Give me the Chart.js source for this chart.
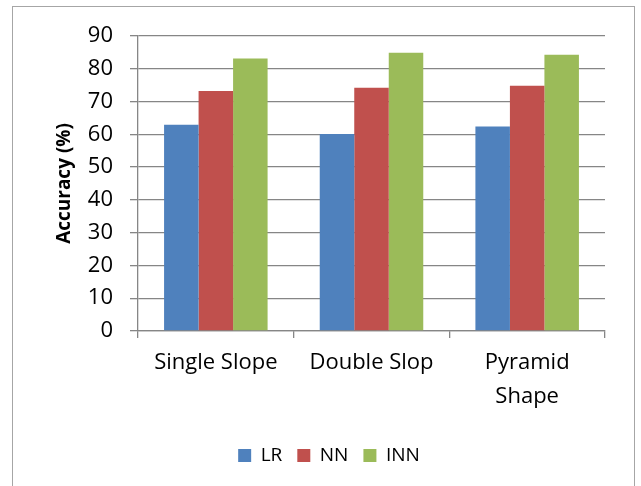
<!DOCTYPE html>
<html>
<head>
<meta charset="utf-8">
<script src="https://cdn.jsdelivr.net/npm/chart.js@4/dist/chart.umd.min.js"></script>
<style>
  html, body { margin: 0; padding: 0; background: #fff; overflow: hidden; }
  #frame { position: absolute; left: 12px; top: 6px; width: 621px; height: 500px; border: 1px solid #a6a6a6; }
  #wrap { position: absolute; left: 0; top: 0; width: 641px; height: 486px; }
</style>
</head>
<body>
<div id="frame"></div>
<div id="wrap"><canvas id="c" width="641" height="486"></canvas></div>
<script>
const categories = [["Single Slope"], ["Double Slop"], ["Pyramid", "Shape"]];
const seriesNames = ["LR", "NN", "INN"];
const lrValues = [62.9, 60.1, 62.4];
const nnValues = [73.2, 74.2, 74.8];
const innValues = [83.1, 84.9, 84.3];
const yTicks = [0, 10, 20, 30, 40, 50, 60, 70, 80, 90];
const colors = ["#4F81BD", "#C0504D", "#9BBB59"];

const FONT = "'Open Sans', 'Liberation Sans', sans-serif";

new Chart(document.getElementById('c'), {
  type: 'bar',
  data: {
    labels: categories,
    datasets: [
      { label: seriesNames[0], data: lrValues, backgroundColor: colors[0] },
      { label: seriesNames[1], data: nnValues, backgroundColor: colors[1] },
      { label: seriesNames[2], data: innValues, backgroundColor: colors[2] }
    ]
  },
  options: {
    responsive: false,
    animation: false,
    devicePixelRatio: 1,
    layout: { padding: { left: 53, right: 36, top: 36, bottom: 11 } },
    datasets: { bar: { barPercentage: 1.0, categoryPercentage: 0.665 } },
    plugins: {
      tooltip: { enabled: false },
      legend: {
        position: 'bottom',
        labels: {
          font: { family: FONT, size: 19 },
          color: '#000',
          boxWidth: 13,
          boxHeight: 13,
          padding: 15
        }
      }
    },
    scales: {
      x: {
        grid: { display: true, drawOnChartArea: false, drawTicks: true, tickLength: 7, color: '#868686', lineWidth: 1.3, offset: true },
        border: { display: true, color: '#868686', width: 1.3 },
        ticks: { font: { family: FONT, size: 22, lineHeight: 1.55 }, color: '#000', padding: 8, maxRotation: 0, autoSkip: false },
        afterFit: (s) => { s.height = 100; }
      },
      y: {
        min: 0, max: 90,
        afterBuildTicks: (s) => { s.ticks = yTicks.map(v => ({ value: v })); },
        grid: { color: '#868686', lineWidth: 1.3, drawTicks: true, tickLength: 8 },
        border: { display: true, color: '#868686', width: 1.3 },
        ticks: { font: { family: FONT, size: 22 }, color: '#000', padding: 17 },
        title: { display: true, text: 'Accuracy (%)', font: { family: FONT, size: 19, weight: 'bold' }, color: '#000', padding: 0 },
        afterFit: (s) => { s.width = 85; }
      }
    }
  }
});
</script>
</body>
</html>
